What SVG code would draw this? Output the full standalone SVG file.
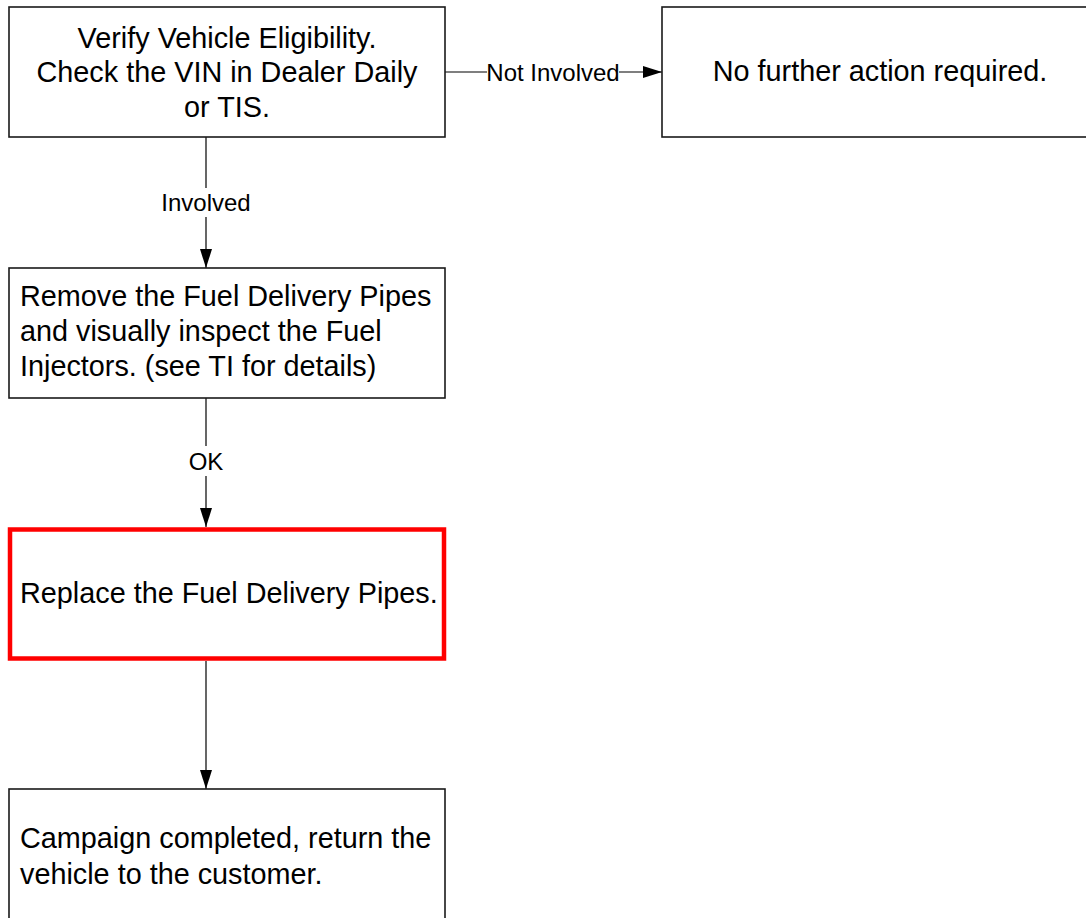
<svg xmlns="http://www.w3.org/2000/svg" width="1086" height="918" viewBox="0 0 1086 918">
<defs>
<style>
.box{fill:#fff;stroke:#1a1a1a;stroke-width:1.6}
.hl{fill:#fff;stroke:#ff0000;stroke-width:4.5}
.t{font-family:"Liberation Sans",Arial,sans-serif;font-size:28.8px;fill:#000}
.c{text-anchor:middle}
.lbl{font-family:"Liberation Sans",Arial,sans-serif;font-size:24px;fill:#000;text-anchor:middle}
.ln{stroke:#000;stroke-width:1.2;fill:none}
</style>
<marker id="arr" markerWidth="19" markerHeight="12" refX="19" refY="6" orient="auto" markerUnits="userSpaceOnUse">
<path d="M0,0 L19,6 L0,12 Z" fill="#000"/>
</marker>
</defs>
<rect width="1086" height="918" fill="#fff"/>
<g id="connectors">
<path class="ln" d="M445,72 H487"/>
<path class="ln" d="M619,72 H662" marker-end="url(#arr)"/>
<text class="lbl" x="553" y="80.6">Not Involved</text>
<path class="ln" d="M206,137 V188"/>
<path class="ln" d="M206,217 V268" marker-end="url(#arr)"/>
<text class="lbl" x="206" y="211">Involved</text>
<path class="ln" d="M206,398 V446"/>
<path class="ln" d="M206,476 V527" marker-end="url(#arr)"/>
<text class="lbl" x="206" y="470">OK</text>
<path class="ln" d="M206,661 V789" marker-end="url(#arr)"/>
</g>
<g id="n1">
<rect class="box" x="9" y="7" width="436" height="130"/>
<text class="t c" x="227" y="47.5">Verify Vehicle Eligibility.</text>
<text class="t c" x="227" y="82">Check the VIN in Dealer Daily</text>
<text class="t c" x="227" y="116.5">or TIS.</text>
</g>
<g id="n2">
<rect class="box" x="662" y="7" width="436" height="130"/>
<text class="t c" x="880" y="81">No further action required.</text>
</g>
<g id="n3">
<rect class="box" x="9" y="268" width="436" height="130"/>
<text class="t" x="20" y="306">Remove the Fuel Delivery Pipes</text>
<text class="t" x="20" y="341">and visually inspect the Fuel</text>
<text class="t" x="20" y="376">Injectors. (see TI for details)</text>
</g>
<g id="n4">
<rect class="hl" x="10" y="529.5" width="434" height="129"/>
<text class="t" x="20" y="603">Replace the Fuel Delivery Pipes.</text>
</g>
<g id="n5">
<rect class="box" x="9" y="789" width="436" height="130"/>
<text class="t" x="20" y="848">Campaign completed, return the</text>
<text class="t" x="20" y="884">vehicle to the customer.</text>
</g>
</svg>
